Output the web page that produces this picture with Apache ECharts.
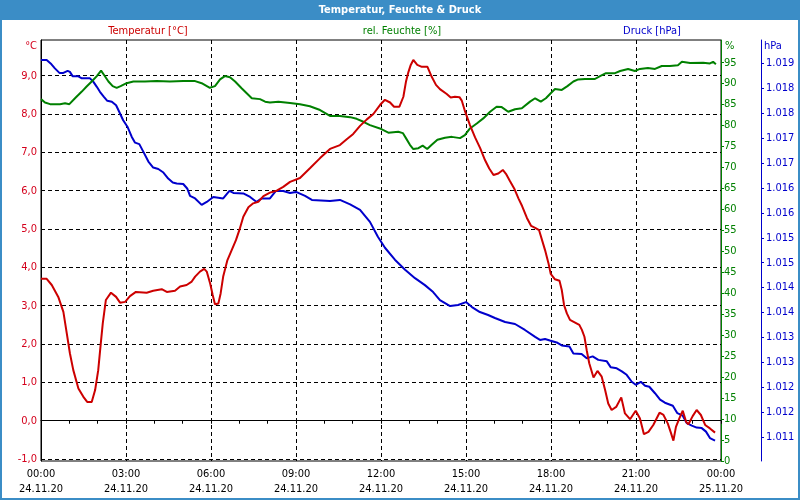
<!DOCTYPE html>
<html><head><meta charset="utf-8">
<script src="https://cdn.jsdelivr.net/npm/echarts@6/dist/echarts.min.js"></script>
<style>html,body{margin:0;padding:0;background:#fff}#c{width:800px;height:500px}</style>
</head><body><div id="c"></div>
<script>
const FONT = "'DejaVu Sans Condensed','DejaVu Sans',sans-serif";
const titleText = 'Temperatur, Feuchte & Druck';
const seriesNames = ['Temperatur [°C]', 'rel. Feuchte [%]', 'Druck [hPa]'];
const unitLabels = ['°C', '%', 'hPa'];
const xTickHours = [0, 3, 6, 9, 12, 15, 18, 21, 24];
const xTickLabels = ['00:00\n24.11.20', '03:00\n24.11.20', '06:00\n24.11.20', '09:00\n24.11.20', '12:00\n24.11.20', '15:00\n24.11.20', '18:00\n24.11.20', '21:00\n24.11.20', '00:00\n25.11.20'];
const tempTicks = [-1, 0, 1, 2, 3, 4, 5, 6, 7, 8, 9];
const humTicks = [0, 5, 10, 15, 20, 25, 30, 35, 40, 45, 50, 55, 60, 65, 70, 75, 80, 85, 90, 95];
const pressTicks = [1011, 1011.5, 1012, 1012.5, 1013, 1013.5, 1014, 1014.5, 1015, 1015.5, 1016, 1016.5, 1017, 1017.5, 1018, 1018.5];

const tempHours = [0,0.20,0.38,0.61,0.79,0.91,1.02,1.14,1.32,1.49,1.63,1.79,1.91,2.02,2.11,2.18,2.29,2.47,2.65,2.79,2.97,3.14,3.35,3.73,3.96,4.26,4.44,4.73,4.91,5.14,5.32,5.44,5.61,5.76,5.85,5.97,6.06,6.14,6.26,6.34,6.43,6.58,6.73,6.88,7.00,7.14,7.32,7.49,7.67,7.85,8.08,8.32,8.55,8.79,9.14,9.50,9.85,10.20,10.55,10.79,11.02,11.26,11.50,11.73,11.97,12.14,12.32,12.46,12.65,12.79,12.88,12.97,13.05,13.14,13.28,13.44,13.64,13.79,13.94,14.08,14.32,14.46,14.61,14.77,14.85,14.97,15.14,15.32,15.50,15.67,15.82,15.97,16.14,16.30,16.41,16.55,16.70,16.85,16.98,17.15,17.30,17.44,17.58,17.79,17.91,17.99,18.14,18.30,18.38,18.46,18.56,18.67,18.85,19.00,19.09,19.18,19.26,19.35,19.50,19.64,19.79,19.91,20.02,20.14,20.30,20.48,20.61,20.79,20.99,21.14,21.28,21.44,21.61,21.83,21.97,22.12,22.23,22.32,22.41,22.53,22.65,22.77,22.85,23.00,23.14,23.29,23.44,23.61,23.79];
const tempValues = [3.70,3.70,3.54,3.23,2.84,2.28,1.76,1.32,0.84,0.63,0.49,0.49,0.80,1.32,2.02,2.54,3.15,3.34,3.23,3.08,3.10,3.25,3.36,3.34,3.39,3.43,3.36,3.39,3.50,3.54,3.63,3.76,3.89,3.96,3.89,3.58,3.28,3.04,3.06,3.32,3.76,4.19,4.45,4.71,4.97,5.32,5.57,5.67,5.71,5.86,5.95,6.00,6.10,6.23,6.33,6.59,6.85,7.09,7.19,7.34,7.48,7.69,7.86,8.00,8.24,8.37,8.30,8.19,8.19,8.45,8.84,9.10,9.28,9.41,9.28,9.23,9.23,8.97,8.76,8.65,8.52,8.43,8.45,8.44,8.35,8.06,7.71,7.39,7.11,6.80,6.58,6.41,6.45,6.54,6.44,6.25,6.06,5.80,5.60,5.29,5.08,5.03,4.97,4.45,4.11,3.83,3.69,3.65,3.41,3.02,2.80,2.63,2.56,2.50,2.37,2.19,1.84,1.50,1.13,1.30,1.15,0.80,0.45,0.28,0.36,0.61,0.19,0.04,0.26,0.06,-0.35,-0.29,-0.11,0.21,0.15,-0.07,-0.31,-0.52,-0.16,0.06,0.26,-0.03,-0.09,0.12,0.28,0.15,-0.11,-0.20,-0.31];

const humHours = [0,0.14,0.32,0.67,0.85,1.00,1.20,1.44,1.61,1.79,1.97,2.12,2.22,2.38,2.53,2.67,2.81,3.02,3.26,3.67,4.08,4.55,5.02,5.44,5.67,5.96,6.14,6.32,6.49,6.67,6.85,7.08,7.26,7.44,7.73,7.91,8.08,8.38,8.79,9.14,9.49,9.85,10.20,10.55,10.91,11.14,11.38,11.61,11.96,12.26,12.61,12.77,12.88,13.02,13.14,13.32,13.47,13.63,13.79,13.99,14.26,14.50,14.79,14.96,15.14,15.38,15.61,15.85,16.08,16.26,16.49,16.73,16.97,17.26,17.44,17.64,17.82,17.99,18.14,18.38,18.58,18.79,18.96,19.20,19.55,19.73,19.94,20.26,20.44,20.72,20.96,21.14,21.42,21.67,21.91,22.20,22.48,22.62,22.91,23.37,23.61,23.72,23.82];
const humValues = [86.3,85.5,85.1,85.1,85.3,85.1,86.5,88.1,89.3,90.5,91.8,93.1,92.1,90.5,89.4,89.0,89.4,90.1,90.5,90.5,90.6,90.5,90.6,90.6,90.1,89.0,89.4,91.0,91.8,91.5,90.5,88.9,87.7,86.5,86.3,85.7,85.5,85.7,85.4,85.1,84.6,83.7,82.3,82.3,82.0,81.6,80.9,80.1,79.3,78.3,78.5,78.2,77.0,75.4,74.4,74.6,75.2,74.4,75.4,76.6,77.1,77.3,77.0,77.7,79.3,80.5,81.7,83.3,84.5,84.4,83.3,83.9,84.1,85.7,86.5,85.7,86.5,87.7,88.7,88.5,89.4,90.5,91.0,91.1,91.1,91.8,92.5,92.5,93.0,93.5,93.0,93.5,93.7,93.5,94.2,94.2,94.4,95.2,94.9,95.0,94.8,95.2,94.6];

const pressHours = [0,0.20,0.34,0.49,0.65,0.79,0.94,1.02,1.12,1.32,1.44,1.73,1.85,1.97,2.08,2.22,2.34,2.50,2.65,2.76,2.90,3.05,3.20,3.32,3.47,3.61,3.79,3.96,4.14,4.32,4.49,4.65,4.79,5.02,5.16,5.26,5.44,5.67,5.85,6.08,6.43,6.65,6.79,7.14,7.38,7.61,7.79,8.08,8.29,8.55,8.79,9.00,9.32,9.56,10.20,10.55,10.91,11.26,11.61,11.89,12.14,12.49,12.85,13.20,13.55,13.84,14.08,14.44,14.72,15.00,15.21,15.49,15.78,16.02,16.38,16.73,17.08,17.44,17.61,17.79,17.96,18.20,18.38,18.65,18.79,19.08,19.26,19.47,19.67,19.97,20.11,20.32,20.50,20.67,20.85,20.99,21.17,21.32,21.47,21.67,21.85,22.02,22.30,22.46,22.65,22.79,22.97,23.14,23.32,23.47,23.61,23.79];
const pressValues = [1018.57,1018.57,1018.50,1018.40,1018.31,1018.31,1018.35,1018.33,1018.24,1018.24,1018.20,1018.20,1018.13,1018.03,1017.93,1017.83,1017.75,1017.73,1017.66,1017.53,1017.36,1017.23,1017.03,1016.91,1016.88,1016.73,1016.53,1016.41,1016.38,1016.31,1016.19,1016.11,1016.09,1016.08,1015.99,1015.84,1015.79,1015.66,1015.72,1015.82,1015.79,1015.94,1015.90,1015.89,1015.82,1015.72,1015.79,1015.79,1015.94,1015.94,1015.90,1015.92,1015.84,1015.76,1015.74,1015.76,1015.67,1015.56,1015.32,1015.02,1014.80,1014.56,1014.36,1014.19,1014.05,1013.91,1013.75,1013.63,1013.65,1013.71,1013.61,1013.51,1013.45,1013.39,1013.31,1013.27,1013.15,1013.01,1012.95,1012.97,1012.94,1012.90,1012.84,1012.82,1012.68,1012.67,1012.58,1012.62,1012.55,1012.52,1012.40,1012.38,1012.32,1012.25,1012.11,1012.05,1012.11,1012.03,1012.01,1011.88,1011.75,1011.69,1011.63,1011.48,1011.43,1011.28,1011.23,1011.19,1011.18,1011.11,1010.98,1010.93];

const RED = '#cc0000', GREEN = '#008000', BLUE = '#0000cc', FRAME = '#3b8dc6';
const pairs = (h, v) => h.map((x, i) => [x, v[i]]);

const chart = echarts.init(document.getElementById('c'), null, {renderer: 'canvas'});
chart.setOption({
  animation: false,
  backgroundColor: '#fff',
  grid: {left: 41, right: 79, top: 40, bottom: 39, show: true, borderColor: '#000', borderWidth: 1, backgroundColor: 'transparent'},
  xAxis: {
    type: 'value', min: 0, max: 24, interval: 3,
    axisLine: {show: true, lineStyle: {color: '#000', width: 1}},
    axisTick: {show: true, length: 3, lineStyle: {color: '#000'}},
    minorTick: {show: true, splitNumber: 3, length: 3, lineStyle: {color: '#000'}},
    splitLine: {show: true, lineStyle: {color: '#000', type: [4, 3], width: 1}},
    axisLabel: {
      margin: 6, color: '#000', fontFamily: FONT, fontSize: 11, lineHeight: 15,
      formatter: v => { const i = xTickHours.indexOf(v); return i >= 0 ? xTickLabels[i] : ''; }
    }
  },
  yAxis: [
    {
      type: 'value', position: 'left', min: -1.05, max: 9.93,
      axisLine: {show: true, lineStyle: {color: '#000', width: 1}},
      axisTick: {show: false, customValues: tempTicks},
      splitLine: {show: true, lineStyle: {color: '#000', type: [4, 3], width: 1}},
      axisLabel: {customValues: tempTicks, margin: 4, color: '#d4001c', fontFamily: FONT, fontSize: 11,
        formatter: v => v.toFixed(1).replace('.', ',')}
    },
    {
      type: 'value', position: 'right', offset: 0, min: 0, max: 100.4,
      axisLine: {show: true, lineStyle: {color: GREEN, width: 1}},
      axisTick: {show: true, length: 3, customValues: humTicks, lineStyle: {color: GREEN}},
      splitLine: {show: false},
      axisLabel: {customValues: humTicks, margin: 3, color: GREEN, fontFamily: FONT, fontSize: 11}
    },
    {
      type: 'value', position: 'right', offset: 40, min: 1010.52, max: 1018.97,
      axisLine: {show: true, lineStyle: {color: BLUE, width: 1}},
      axisTick: {show: true, length: 3, customValues: pressTicks, lineStyle: {color: BLUE}},
      splitLine: {show: false},
      axisLabel: {customValues: pressTicks, margin: 5, color: BLUE, fontFamily: FONT, fontSize: 11,
        formatter: v => '1.' + String(Math.round(v) - 1000).padStart(3, '0')}
    }
  ],
  series: [
    {name: seriesNames[2], type: 'line', yAxisIndex: 2, data: pairs(pressHours, pressValues), showSymbol: false, symbol: 'none', lineStyle: {color: BLUE, width: 2}, itemStyle: {color: BLUE}, z: 2},
    {name: seriesNames[1], type: 'line', yAxisIndex: 1, data: pairs(humHours, humValues), showSymbol: false, symbol: 'none', lineStyle: {color: GREEN, width: 2}, itemStyle: {color: GREEN}, z: 3},
    {name: seriesNames[0], type: 'line', yAxisIndex: 0, data: pairs(tempHours, tempValues), showSymbol: false, symbol: 'none', lineStyle: {color: RED, width: 2}, itemStyle: {color: RED}, z: 4}
  ],
  graphic: [
    {type: 'rect', shape: {x: 0, y: 0, width: 800, height: 20}, style: {fill: FRAME}, silent: true},
    {type: 'rect', shape: {x: 1, y: 1, width: 798, height: 498}, style: {fill: 'none', stroke: FRAME, lineWidth: 2}, silent: true},
    {type: 'text', x: 400, y: 10, style: {text: titleText, fill: '#fff', font: "bold 11px " + FONT, textAlign: 'center', textVerticalAlign: 'middle', align: 'center', verticalAlign: 'middle'}},
    {type: 'text', x: 148, y: 31, style: {text: seriesNames[0], fill: RED, font: "11px " + FONT, textAlign: 'center', textVerticalAlign: 'middle', align: 'center', verticalAlign: 'middle'}},
    {type: 'text', x: 402, y: 31, style: {text: seriesNames[1], fill: GREEN, font: "11px " + FONT, textAlign: 'center', textVerticalAlign: 'middle', align: 'center', verticalAlign: 'middle'}},
    {type: 'text', x: 652, y: 31, style: {text: seriesNames[2], fill: BLUE, font: "11px " + FONT, textAlign: 'center', textVerticalAlign: 'middle', align: 'center', verticalAlign: 'middle'}},
    {type: 'text', x: 37, y: 46, style: {text: unitLabels[0], fill: '#d4001c', font: "11px " + FONT, textAlign: 'right', textVerticalAlign: 'middle', align: 'right', verticalAlign: 'middle'}},
    {type: 'text', x: 725, y: 46, style: {text: unitLabels[1], fill: GREEN, font: "11px " + FONT, textAlign: 'left', textVerticalAlign: 'middle', align: 'left', verticalAlign: 'middle'}},
    {type: 'text', x: 764, y: 46, style: {text: unitLabels[2], fill: BLUE, font: "11px " + FONT, textAlign: 'left', textVerticalAlign: 'middle', align: 'left', verticalAlign: 'middle'}}
  ]
});
</script></body></html>
